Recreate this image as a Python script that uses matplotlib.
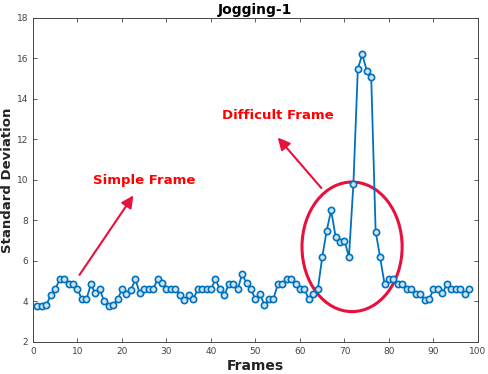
import matplotlib
matplotlib.use("Agg")
import matplotlib.pyplot as plt
from matplotlib.patches import Ellipse

frames = list(range(1, 99))
std_dev = [3.8, 3.8, 3.85, 4.3, 4.6, 5.1, 5.1, 4.85, 4.85, 4.6,
           4.1, 4.1, 4.85, 4.4, 4.6, 4.0, 3.8, 3.85, 4.1, 4.6,
           4.35, 4.55, 5.1, 4.4, 4.6, 4.6, 4.6, 5.1, 4.9, 4.6,
           4.6, 4.6, 4.3, 4.05, 4.3, 4.1, 4.6, 4.6, 4.6, 4.6,
           5.1, 4.6, 4.3, 4.85, 4.85, 4.6, 5.35, 4.9, 4.6, 4.1,
           4.35, 3.85, 4.1, 4.1, 4.85, 4.85, 5.1, 5.1, 4.85, 4.6,
           4.6, 4.1, 4.35, 4.6, 6.2, 7.5, 8.5, 7.2, 6.95, 7.0,
           6.2, 9.8, 15.5, 16.2, 15.4, 15.1, 7.45, 6.2, 4.85, 5.1,
           5.1, 4.85, 4.85, 4.6, 4.6, 4.35, 4.35, 4.05, 4.1, 4.6,
           4.6, 4.4, 4.85, 4.6, 4.6, 4.6, 4.35, 4.6]

title = "Jogging-1"
xlabel = "Frames"
ylabel = "Standard Deviation"
xticks = list(range(0, 101, 10))
yticks = list(range(2, 19, 2))

blue = "#0072BD"
red = "#E8103C"

fig = plt.figure(figsize=(4.88, 3.74), dpi=100)
ax = fig.add_axes([0.0676, 0.0856, 0.9119, 0.8663])
ax.plot(frames, std_dev, color=blue, lw=1.3, marker='o', ms=4.5,
        mfc='#cfe3f3', mec=blue, mew=1.2)
ax.set_xlim(0, 100)
ax.set_ylim(2, 18)
ax.set_xticks(xticks)
ax.set_yticks(yticks)
ax.tick_params(direction='in', length=3, labelsize=6.5, labelcolor='#444444',
               color='#444444', top=True, right=True, width=0.6)
for s in ax.spines.values():
    s.set_color('#444444')
    s.set_linewidth(0.7)
ax.set_title(title, fontsize=10, fontweight='bold', pad=3)
ax.set_xlabel(xlabel, fontsize=10, fontweight='bold', labelpad=2, color='#222222')
ax.set_ylabel(ylabel, fontsize=9.5, fontweight='bold', color='#222222')
ax.yaxis.set_label_coords(-0.042, 0.5)

ax.add_patch(Ellipse((71.7, 6.7), 22.5, 6.4, fill=False, ec=red, lw=2.2))
ax.annotate("", xy=(22.9, 9.35), xytext=(10.1, 5.2),
            arrowprops=dict(arrowstyle='-|>', color=red, lw=1.5, mutation_scale=18))
ax.annotate("", xy=(54.6, 12.2), xytext=(65.2, 9.5),
            arrowprops=dict(arrowstyle='-|>', color=red, lw=1.5, mutation_scale=18))
ax.text(13.5, 9.95, "Simple Frame", color='#FF0000', fontsize=9.5,
        fontweight='bold', va='center', ha='left')
ax.text(42.5, 13.2, "Difficult Frame", color='#FF0000', fontsize=9.5,
        fontweight='bold', va='center', ha='left')

fig.savefig("out.png", dpi=100)
